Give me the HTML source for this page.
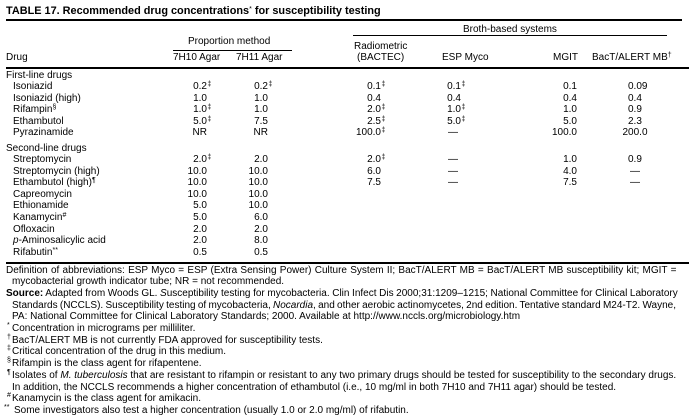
<!DOCTYPE html>
<html><head><meta charset="utf-8">
<style>
body{margin:0;width:689px;height:419px;position:relative;background:#fff;overflow:hidden;font-family:"Liberation Sans",Arial,sans-serif;color:#000}
.t{position:absolute;white-space:nowrap;font-size:10px;line-height:12px}
.r{position:absolute;white-space:nowrap;font-size:10px;line-height:12px;text-align:right}
.s{position:absolute;left:100%;top:0;font-size:7px;line-height:7px;padding-left:0.5px}
.sp{font-size:7px;line-height:0;vertical-align:3px}
.h{position:absolute;background:#000}
.fs{position:absolute;font-size:7px;line-height:7px}
</style></head><body>

<div class="t" style="left:6px;top:5px;font-size:10.9px;line-height:13px;font-weight:bold">TABLE 17. Recommended drug concentrations<span class="sp" style="font-weight:normal">*</span> for susceptibility testing</div>
<div class="h" style="left:6px;top:19px;width:676px;height:2px"></div>

<div class="t" style="left:463px;top:24px">Broth-based systems</div>
<div class="h" style="left:353px;top:35px;width:314px;height:1px"></div>
<div class="t" style="left:188px;top:36px">Proportion method</div>
<div class="h" style="left:173px;top:50px;width:119px;height:1px"></div>
<div class="t" style="left:354px;top:40.5px">Radiometric</div>
<div class="t" style="left:357px;top:52px">(BACTEC)</div>
<div class="t" style="left:6px;top:52px">Drug</div>
<div class="t" style="left:173px;top:52px">7H10 Agar</div>
<div class="t" style="left:236px;top:52px">7H11 Agar</div>
<div class="t" style="left:442px;top:52px">ESP Myco</div>
<div class="t" style="left:553px;top:52px">MGIT</div>
<div class="t" style="left:592px;top:52px">BacT/ALERT MB<span class="sp">†</span></div>
<div class="h" style="left:6px;top:67px;width:683px;height:2px"></div>

<div class="t" style="left:6px;top:69.5px">First-line drugs</div>

<div class="t" style="left:13px;top:81px">Isoniazid</div>
<div class="r" style="right:482px;top:81px">0.2<span class="s">‡</span></div>
<div class="r" style="right:421px;top:81px">0.2<span class="s">‡</span></div>
<div class="r" style="right:308px;top:81px">0.1<span class="s">‡</span></div>
<div class="r" style="right:228px;top:81px">0.1<span class="s">‡</span></div>
<div class="r" style="right:112px;top:81px">0.1</div>
<div class="t" style="left:628px;top:81px">0.09</div>

<div class="t" style="left:13px;top:92.5px">Isoniazid (high)</div>
<div class="r" style="right:482px;top:92.5px">1.0</div>
<div class="r" style="right:421px;top:92.5px">1.0</div>
<div class="r" style="right:308px;top:92.5px">0.4</div>
<div class="r" style="right:228px;top:92.5px">0.4</div>
<div class="r" style="right:112px;top:92.5px">0.4</div>
<div class="t" style="left:628px;top:92.5px">0.4</div>

<div class="t" style="left:13px;top:104px">Rifampin<span class="sp">§</span></div>
<div class="r" style="right:482px;top:104px">1.0<span class="s">‡</span></div>
<div class="r" style="right:421px;top:104px">1.0</div>
<div class="r" style="right:308px;top:104px">2.0<span class="s">‡</span></div>
<div class="r" style="right:228px;top:104px">1.0<span class="s">‡</span></div>
<div class="r" style="right:112px;top:104px">1.0</div>
<div class="t" style="left:628px;top:104px">0.9</div>

<div class="t" style="left:13px;top:115.5px">Ethambutol</div>
<div class="r" style="right:482px;top:115.5px">5.0<span class="s">‡</span></div>
<div class="r" style="right:421px;top:115.5px">7.5</div>
<div class="r" style="right:308px;top:115.5px">2.5<span class="s">‡</span></div>
<div class="r" style="right:228px;top:115.5px">5.0<span class="s">‡</span></div>
<div class="r" style="right:112px;top:115.5px">5.0</div>
<div class="t" style="left:628px;top:115.5px">2.3</div>

<div class="t" style="left:13px;top:127px">Pyrazinamide</div>
<div class="r" style="right:482px;top:127px">NR</div>
<div class="r" style="right:421px;top:127px">NR</div>
<div class="r" style="right:308px;top:127px">100.0<span class="s">‡</span></div>
<div class="t" style="left:448px;top:127px">—</div>
<div class="r" style="right:112px;top:127px">100.0</div>
<div class="t" style="left:622.5px;top:127px">200.0</div>

<div class="t" style="left:6px;top:142.5px">Second-line drugs</div>

<div class="t" style="left:13px;top:154px">Streptomycin</div>
<div class="r" style="right:482px;top:154px">2.0<span class="s">‡</span></div>
<div class="r" style="right:421px;top:154px">2.0</div>
<div class="r" style="right:308px;top:154px">2.0<span class="s">‡</span></div>
<div class="t" style="left:448px;top:154px">—</div>
<div class="r" style="right:112px;top:154px">1.0</div>
<div class="t" style="left:628px;top:154px">0.9</div>

<div class="t" style="left:13px;top:165.6px">Streptomycin (high)</div>
<div class="r" style="right:482px;top:165.6px">10.0</div>
<div class="r" style="right:421px;top:165.6px">10.0</div>
<div class="r" style="right:308px;top:165.6px">6.0</div>
<div class="t" style="left:448px;top:165.6px">—</div>
<div class="r" style="right:112px;top:165.6px">4.0</div>
<div class="t" style="left:630px;top:165.6px">—</div>

<div class="t" style="left:13px;top:177.2px">Ethambutol (high)<span class="sp">¶</span></div>
<div class="r" style="right:482px;top:177.2px">10.0</div>
<div class="r" style="right:421px;top:177.2px">10.0</div>
<div class="r" style="right:308px;top:177.2px">7.5</div>
<div class="t" style="left:448px;top:177.2px">—</div>
<div class="r" style="right:112px;top:177.2px">7.5</div>
<div class="t" style="left:630px;top:177.2px">—</div>

<div class="t" style="left:13px;top:188.8px">Capreomycin</div>
<div class="r" style="right:482px;top:188.8px">10.0</div>
<div class="r" style="right:421px;top:188.8px">10.0</div>

<div class="t" style="left:13px;top:200.4px">Ethionamide</div>
<div class="r" style="right:482px;top:200.4px">5.0</div>
<div class="r" style="right:421px;top:200.4px">10.0</div>

<div class="t" style="left:13px;top:212px">Kanamycin<span class="sp">#</span></div>
<div class="r" style="right:482px;top:212px">5.0</div>
<div class="r" style="right:421px;top:212px">6.0</div>

<div class="t" style="left:13px;top:223.6px">Ofloxacin</div>
<div class="r" style="right:482px;top:223.6px">2.0</div>
<div class="r" style="right:421px;top:223.6px">2.0</div>

<div class="t" style="left:13px;top:235.2px"><i>p</i>-Aminosalicylic acid</div>
<div class="r" style="right:482px;top:235.2px">2.0</div>
<div class="r" style="right:421px;top:235.2px">8.0</div>

<div class="t" style="left:13px;top:246.8px">Rifabutin<span class="sp">**</span></div>
<div class="r" style="right:482px;top:246.8px">0.5</div>
<div class="r" style="right:421px;top:246.8px">0.5</div>

<div class="h" style="left:6px;top:262px;width:683px;height:2px"></div>

<div class="t" style="left:6px;top:264.5px;word-spacing:0.48px">Definition of abbreviations: ESP Myco = ESP (Extra Sensing Power) Culture System II; BacT/ALERT MB = BacT/ALERT MB susceptibility kit; MGIT =</div>
<div class="t" style="left:12px;top:276.2px">mycobacterial growth indicator tube; NR = not recommended.</div>
<div class="t" style="left:6px;top:287.9px;word-spacing:-0.17px"><b>Source:</b> Adapted from Woods GL. <i>S</i>usceptibility testing for mycobacteria. Clin Infect Dis 2000;31:1209–1215; National Committee for Clinical Laboratory</div>
<div class="t" style="left:12px;top:299.6px;word-spacing:-0.5px">Standards (NCCLS). Susceptibility testing of mycobacteria, <i>Nocardia</i>, and other aerobic actinomycetes, 2nd edition. Tentative standard M24-T2. Wayne,</div>
<div class="t" style="left:12px;top:311.3px">PA: National Committee for Clinical Laboratory Standards; 2000. Available at http://www.nccls.org/microbiology.htm</div>

<div class="fs" style="left:7px;top:322px">*</div>
<div class="t" style="left:12px;top:323px">Concentration in micrograms per milliliter.</div>
<div class="fs" style="left:7px;top:333.7px">†</div>
<div class="t" style="left:12px;top:334.7px">BacT/ALERT MB is not currently FDA approved for susceptibility tests.</div>
<div class="fs" style="left:7px;top:345.4px">‡</div>
<div class="t" style="left:12px;top:346.4px">Critical concentration of the drug in this medium.</div>
<div class="fs" style="left:7px;top:357.1px">§</div>
<div class="t" style="left:12px;top:358.1px">Rifampin is the class agent for rifapentene.</div>
<div class="fs" style="left:7px;top:368.8px">¶</div>
<div class="t" style="left:12px;top:369.8px">Isolates of <i>M. tuberculosis</i> that are resistant to rifampin or resistant to any two primary drugs should be tested for susceptibility to the secondary drugs.</div>
<div class="t" style="left:12px;top:381.5px">In addition, the NCCLS recommends a higher concentration of ethambutol (i.e., 10 mg/ml in both 7H10 and 7H11 agar) should be tested.</div>
<div class="fs" style="left:7px;top:392.2px">#</div>
<div class="t" style="left:12px;top:393.2px">Kanamycin is the class agent for amikacin.</div>
<div class="fs" style="left:4px;top:403.9px">**</div>
<div class="t" style="left:14px;top:404.9px">Some investigators also test a higher concentration (usually 1.0 or 2.0 mg/ml) of rifabutin.</div>

</body></html>
